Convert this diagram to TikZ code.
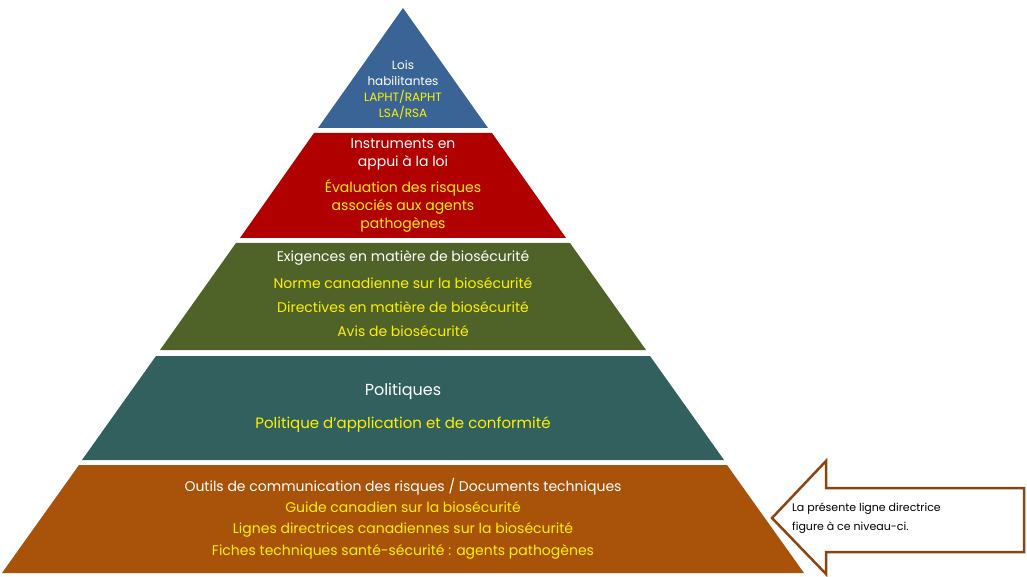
\documentclass[tikz,border=0pt]{standalone}
\usepackage{fontspec}
\setmainfont{Poppins}
\begin{document}
\begin{tikzpicture}[x=1pt,y=-1pt,
  w/.style={text=white,font=\fontsize{14}{18}\selectfont,align=center,inner sep=0},
  yl/.style={text=yellow,font=\fontsize{14}{18}\selectfont,align=center,inner sep=0}]
\useasboundingbox (0,0) rectangle (1027,577);
\definecolor{cb}{HTML}{3A6496}\definecolor{cr}{HTML}{B00000}
\definecolor{cg}{HTML}{4F6228}\definecolor{ct}{HTML}{31605E}
\definecolor{co}{HTML}{A8520A}\definecolor{cbr}{HTML}{8B4513}
\fill[cb] (403,8) -- (488,128) -- (318,128) -- cycle;
\fill[cr] (314,133) -- (492,133) -- (566,238) -- (240,238) -- cycle;
\fill[cg] (236,243) -- (570,243) -- (646,350) -- (160,350) -- cycle;
\fill[ct] (156,356) -- (650,356) -- (724,460) -- (82,460) -- cycle;
\fill[co] (79,465) -- (727,465) -- (804,573) -- (2,573) -- cycle;
\node[w,font=\fontsize{12}{16}\selectfont] (l1) at (403,73) {Lois\\habilitantes};
\node[yl,font=\fontsize{12}{16}\selectfont] (l2) at (403,105) {LAPHT/RAPHT\\LSA/RSA};
\node[w] (r1) at (403,154) {Instruments en\\appui à la loi};
\node[yl] (r2) at (403,206) {Évaluation des risques\\associés aux agents\\pathogènes};
\node[w] (g1) at (403,258) {Exigences en matière de biosécurité};
\node[yl,font=\fontsize{14}{24}\selectfont] (g2) at (403,307) {Norme canadienne sur la biosécurité\\Directives en matière de biosécurité\\Avis de biosécurité};
\node[w,font=\fontsize{16}{20}\selectfont] (t1) at (403,391) {Politiques};
\node[yl,font=\fontsize{15}{19}\selectfont] (t2) at (403,425) {Politique d'application et de conformité};
\node[w] (o1) at (403,487) {Outils de communication des risques / Documents techniques};
\node[yl,font=\fontsize{14}{21.5}\selectfont] (o2) at (403,530) {Guide canadien sur la biosécurité\\Lignes directrices canadiennes sur la biosécurité\\Fiches techniques santé-sécurité : agents pathogènes};
\draw[cbr,line width=2.5pt,fill=white] (772,518) -- (826,461) -- (826,488) -- (1024,488) -- (1024,552) -- (826,552) -- (826,574) -- cycle;
\node[align=left,anchor=west,inner sep=0,font=\fontsize{11}{19}\selectfont] (c) at (792,518) {La présente ligne directrice\\figure à ce niveau-ci.};
\end{tikzpicture}
\end{document}
